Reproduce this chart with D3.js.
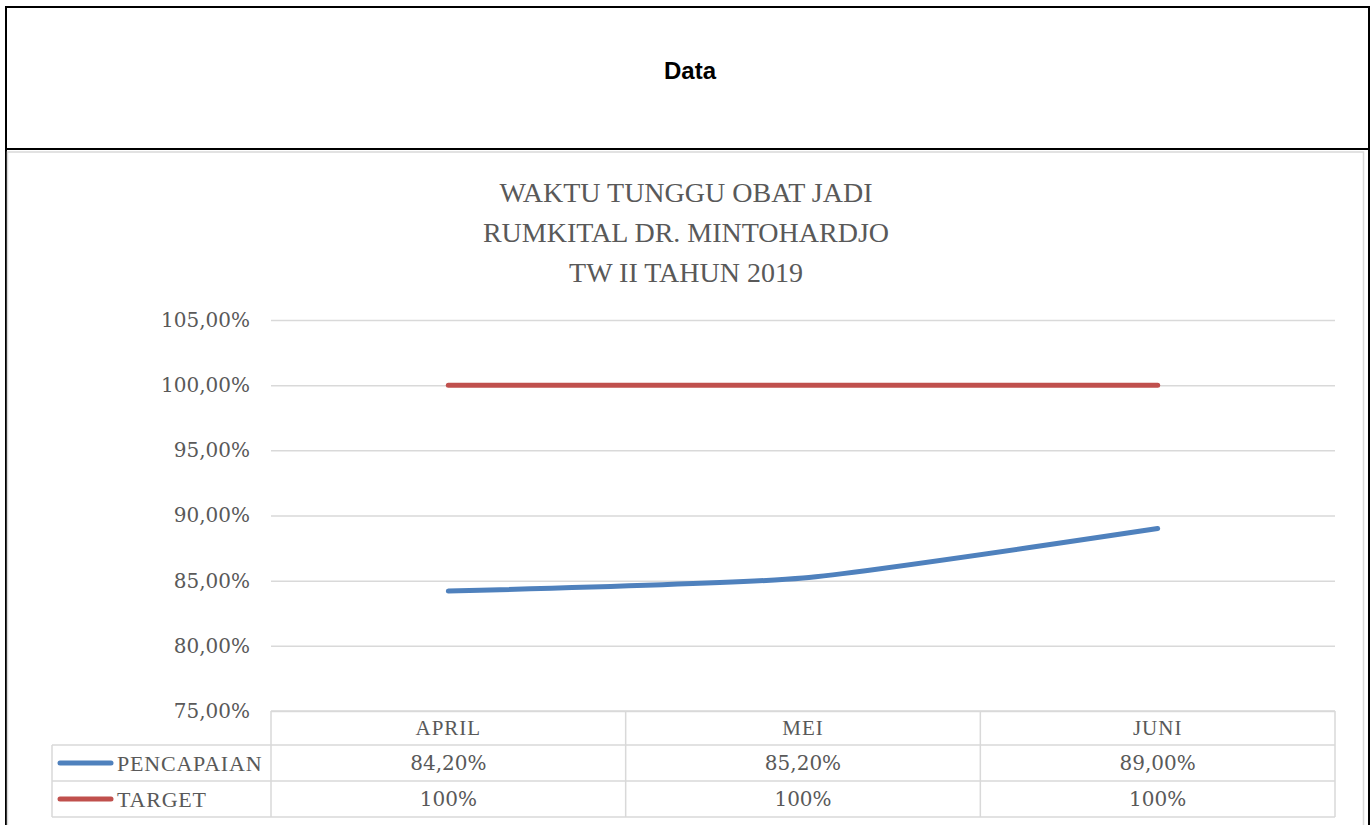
<!DOCTYPE html>
<html>
<head>
<meta charset="utf-8">
<script src="https://cdn.jsdelivr.net/npm/d3@7"></script>
<style>
  body { margin: 0; background: #fff; }
  svg { display: block; }
</style>
</head>
<body>
<svg width="1371" height="825"></svg>
<script>
const months = ["APRIL", "MEI", "JUNI"];
const pencapaian = [84.2, 85.2, 89.0];
const target = [100, 100, 100];
const yTicks = [75, 80, 85, 90, 95, 100, 105];
const titleLines = ["WAKTU TUNGGU OBAT JADI", "RUMKITAL DR. MINTOHARDJO", "TW II TAHUN 2019"];

const idLocale = d3.formatLocale({decimal: ",", thousands: ".", grouping: [3], currency: ["Rp", ""]});
const fmt2 = idLocale.format(".2f");
const fmt0 = idLocale.format(".0f");

const serif = "'DejaVu Serif', serif";
const deco = "'Liberation Serif', serif";
const grey = "#595959";
const gridCol = "#D9D9D9";

const svg = d3.select("svg");
const plotLeft = 271, plotRight = 1335, plotTop = 320, plotBottom = 711;

// header box
svg.append("rect").attr("x", 6).attr("y", 7).attr("width", 1363).attr("height", 830)
  .attr("fill", "none").attr("stroke", "#000").attr("stroke-width", 2);
svg.append("line").attr("x1", 6).attr("x2", 1369).attr("y1", 149).attr("y2", 149)
  .attr("stroke", "#000").attr("stroke-width", 2);
svg.append("text").attr("x", 690).attr("y", 79).attr("text-anchor", "middle")
  .attr("font-family", "'Liberation Sans', Arial, sans-serif").attr("font-weight", "bold")
  .attr("font-size", 24).attr("fill", "#000").text("Data");

// chart area border
svg.append("rect").attr("x", 7.5).attr("y", 152).attr("width", 1356).attr("height", 700)
  .attr("fill", "none").attr("stroke", gridCol).attr("stroke-width", 1.5);

// title
svg.append("g").selectAll("text").data(titleLines).join("text")
  .attr("x", 686).attr("y", (d, i) => 202 + i * 40)
  .attr("text-anchor", "middle").attr("font-family", deco).attr("font-size", 28)
  .attr("fill", grey).text(d => d);

const x = d3.scaleBand().domain(months).range([plotLeft, plotRight]);
const y = d3.scaleLinear().domain([75, 105]).range([plotBottom, plotTop]);

// gridlines
svg.append("g").attr("transform", "translate(" + plotLeft + ",0)")
  .call(d3.axisRight(y).tickValues(yTicks).tickSize(plotRight - plotLeft).tickFormat(""))
  .call(g => g.select(".domain").remove())
  .call(g => g.selectAll("line").attr("stroke", gridCol).attr("stroke-width", 1.5));

// y axis labels
svg.append("g").attr("transform", "translate(" + plotLeft + ",0)")
  .call(d3.axisLeft(y).tickValues(yTicks).tickSize(0).tickPadding(21).tickFormat(d => fmt2(d) + "%"))
  .call(g => g.select(".domain").remove())
  .call(g => g.selectAll("text").attr("font-family", serif).attr("font-size", 20).attr("fill", grey));

// lines
const series = [
  {name: "PENCAPAIAN", values: pencapaian, color: "#4F81BD", label: d => fmt2(d) + "%"},
  {name: "TARGET", values: target, color: "#C0504D", label: d => fmt0(d) + "%"}
];
const line = d3.line()
  .x((d, i) => x(months[i]) + x.bandwidth() / 2)
  .y(d => y(d))
  .curve(d3.curveCardinal.tension(0.5));

svg.append("g").selectAll("path").data(series.slice().reverse()).join("path")
  .attr("d", d => line(d.values)).attr("fill", "none")
  .attr("stroke", d => d.color).attr("stroke-width", 5)
  .attr("stroke-linecap", "round").attr("stroke-linejoin", "round");

// data table
const rowTop = [711, 745, 781], rowH = [34, 36, 36];
const legendLeft = 52, tableBottom = 817;
const tbl = svg.append("g").attr("stroke", gridCol).attr("stroke-width", 1.5).attr("fill", "none");
tbl.append("line").attr("x1", plotLeft).attr("x2", plotRight).attr("y1", plotBottom).attr("y2", plotBottom);
[745, 781, tableBottom].forEach(yy =>
  tbl.append("line").attr("x1", legendLeft).attr("x2", plotRight).attr("y1", yy).attr("y2", yy));
tbl.append("line").attr("x1", legendLeft).attr("x2", legendLeft).attr("y1", 745).attr("y2", tableBottom);
months.forEach(m => tbl.append("line").attr("x1", x(m)).attr("x2", x(m)).attr("y1", plotBottom).attr("y2", tableBottom));
tbl.append("line").attr("x1", plotRight).attr("x2", plotRight).attr("y1", plotBottom).attr("y2", tableBottom);

svg.append("g").selectAll("text").data(months).join("text")
  .attr("x", d => x(d) + x.bandwidth() / 2).attr("y", 735)
  .attr("text-anchor", "middle").attr("font-family", deco).attr("font-size", 21)
  .attr("letter-spacing", 1).attr("fill", grey).text(d => d);

series.forEach((s, si) => {
  const cy = rowTop[si + 1] + rowH[si + 1] / 2;
  svg.append("line").attr("x1", 60).attr("x2", 111).attr("y1", cy).attr("y2", cy)
    .attr("stroke", s.color).attr("stroke-width", 5).attr("stroke-linecap", "round");
  svg.append("text").attr("x", 117).attr("y", cy + 8).attr("font-family", deco)
    .attr("font-size", 22).attr("fill", grey).attr("letter-spacing", 0.8).text(s.name);
  svg.append("g").selectAll("text").data(s.values).join("text")
    .attr("x", (d, i) => x(months[i]) + x.bandwidth() / 2).attr("y", cy + 7)
    .attr("text-anchor", "middle").attr("font-family", serif).attr("font-size", 20)
    .attr("fill", grey).text(s.label);
});
</script>
</body>
</html>
